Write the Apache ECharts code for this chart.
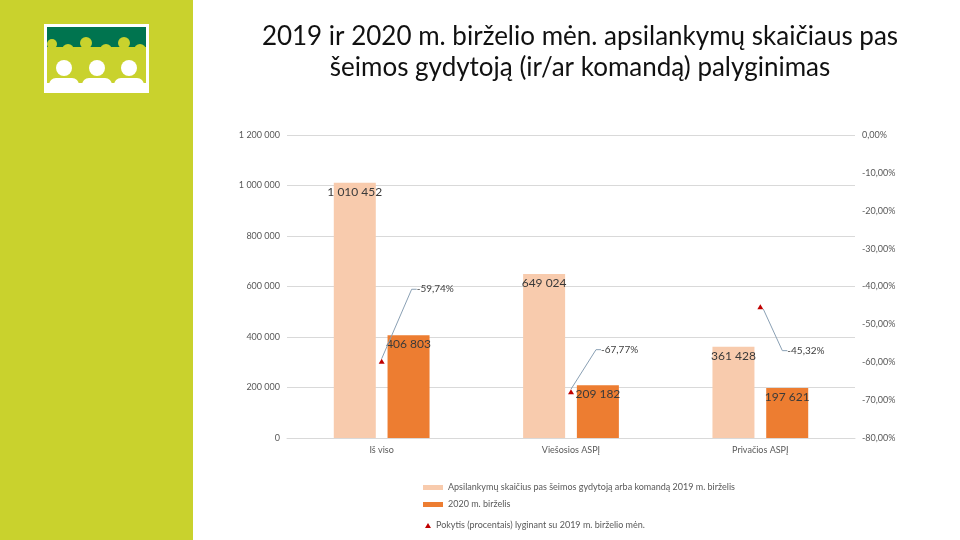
<!DOCTYPE html>
<html>
<head>
<meta charset="utf-8">
<script src="https://cdn.jsdelivr.net/npm/echarts@6/dist/echarts.min.js"></script>
<style>html,body{margin:0;padding:0;background:#fff}#c{width:960px;height:540px}</style>
</head>
<body>
<div id="c"></div>
<script>
const categories = ['Iš viso', 'Viešosios ASPĮ', 'Privačios ASPĮ'];
const visits2019 = [1010452, 649024, 361428];
const visits2020 = [406803, 209182, 197621];
const changePct = [-59.74, -67.77, -45.32];
const seriesNames = [
  'Apsilankymų skaičius pas šeimos gydytoją arba komandą 2019 m. birželis',
  '2020 m. birželis',
  'Pokytis (procentais) lyginant su 2019 m. birželio mėn.'
];
const titleText = '2019 ir 2020 m. birželio mėn. apsilankymų skaičiaus pas\nšeimos gydytoją (ir/ar komandą) palyginimas';
const labelOffsets = [[32, -72], [27, -42], [24, 44]];

const FONT = 'Lato, "Open Sans", sans-serif';
const fmtNum = v => String(v).replace(/\B(?=(\d{3})+(?!\d))/g, ' ');
const fmtPct = v => v.toFixed(2).replace('.', ',') + '%';

const chart = echarts.init(document.getElementById('c'), null, {renderer: 'canvas'});
const olive = '#c9d22d';
chart.setOption({
  backgroundColor: '#fff',
  textStyle: {fontFamily: FONT},
  title: {
    text: titleText, left: 575, top: 16, textAlign: 'center',
    textStyle: {fontFamily: FONT, fontSize: 26, fontWeight: 'normal', color: '#111', lineHeight: 31}
  },
  graphic: [
    {type: 'rect', shape: {x: 0, y: 0, width: 193, height: 540}, style: {fill: olive}, silent: true},
    {type: 'rect', shape: {x: 44, y: 24, width: 105, height: 69}, style: {fill: '#fff'}},
    {type: 'rect', shape: {x: 47, y: 27, width: 99, height: 56}, style: {fill: olive}},
    {type: 'rect', shape: {x: 47, y: 27, width: 99, height: 20}, style: {fill: '#00744f'}},
    {type: 'circle', shape: {cx: 52, cy: 44, r: 5}, style: {fill: olive}},
    {type: 'circle', shape: {cx: 68, cy: 50, r: 6}, style: {fill: olive}},
    {type: 'circle', shape: {cx: 86, cy: 43, r: 6}, style: {fill: olive}},
    {type: 'circle', shape: {cx: 106, cy: 50, r: 6}, style: {fill: olive}},
    {type: 'circle', shape: {cx: 124, cy: 43, r: 6}, style: {fill: olive}},
    {type: 'circle', shape: {cx: 140, cy: 50, r: 6}, style: {fill: olive}},
    {type: 'circle', shape: {cx: 64, cy: 68, r: 8}, style: {fill: '#fff'}},
    {type: 'circle', shape: {cx: 97, cy: 68, r: 8}, style: {fill: '#fff'}},
    {type: 'circle', shape: {cx: 129, cy: 68, r: 8}, style: {fill: '#fff'}},
    {type: 'rect', shape: {x: 49, y: 78, width: 30, height: 14, r: [7, 7, 0, 0]}, style: {fill: '#fff'}},
    {type: 'rect', shape: {x: 82, y: 78, width: 30, height: 14, r: [7, 7, 0, 0]}, style: {fill: '#fff'}},
    {type: 'rect', shape: {x: 114, y: 78, width: 30, height: 14, r: [7, 7, 0, 0]}, style: {fill: '#fff'}}
  ],
  grid: {left: 287, right: 105, top: 135, bottom: 102, containLabel: false},
  legend: [
    {
      data: [seriesNames[0], seriesNames[1]], orient: 'vertical', left: 418, top: 478,
      itemWidth: 20, itemHeight: 5, itemGap: 8, icon: 'rect',
      textStyle: {fontSize: 9, color: '#595959', fontFamily: FONT}
    },
    {
      data: [{name: seriesNames[2], icon: 'triangle'}], orient: 'vertical', left: 420, top: 516,
      itemWidth: 6, itemHeight: 5, itemGap: 8,
      textStyle: {fontSize: 9, color: '#595959', fontFamily: FONT}
    }
  ],
  xAxis: {
    type: 'category', data: categories,
    axisLine: {lineStyle: {color: '#d9d9d9'}}, axisTick: {show: false},
    axisLabel: {fontSize: 9, color: '#595959', margin: 8, fontFamily: FONT}
  },
  yAxis: [
    {
      type: 'value', min: 0, max: 1200000, interval: 200000,
      axisLine: {show: false}, axisTick: {show: false},
      splitLine: {lineStyle: {color: '#d9d9d9'}},
      axisLabel: {fontSize: 9, color: '#595959', margin: 7, formatter: v => fmtNum(v), fontFamily: FONT}
    },
    {
      type: 'value', min: -80, max: 0, interval: 10, position: 'right',
      axisLine: {show: false}, axisTick: {show: false}, splitLine: {show: false},
      axisLabel: {fontSize: 9, color: '#595959', margin: 7, formatter: v => fmtPct(v), fontFamily: FONT}
    }
  ],
  series: [
    {
      name: seriesNames[0], type: 'bar', data: visits2019, barWidth: 42, barGap: '28%',
      itemStyle: {color: '#f8cbad'},
      label: {show: true, position: 'insideTop', distance: 3, fontSize: 12, color: '#3a3a3a',
        formatter: p => fmtNum(p.value), fontFamily: FONT}
    },
    {
      name: seriesNames[1], type: 'bar', data: visits2020, barWidth: 42,
      itemStyle: {color: '#ed7d31'},
      label: {show: true, position: 'insideTop', distance: 3, fontSize: 12, color: '#3a3a3a',
        formatter: p => fmtNum(p.value), fontFamily: FONT}
    },
    {
      name: seriesNames[2], type: 'line', yAxisIndex: 1, data: changePct,
      symbol: 'triangle', symbolSize: [6, 5],
      itemStyle: {color: '#c00000'},
      lineStyle: {opacity: 0, width: 0},
      label: {show: true, position: 'right', distance: 0, fontSize: 10, color: '#404040',
        formatter: p => fmtPct(p.value), fontFamily: FONT},
      labelLine: {show: true, length2: 5, lineStyle: {color: '#8aa0b4', width: 1}},
      labelLayout: p => ({dx: labelOffsets[p.dataIndex][0], dy: labelOffsets[p.dataIndex][1]})
    }
  ]
});
</script>
</body>
</html>
